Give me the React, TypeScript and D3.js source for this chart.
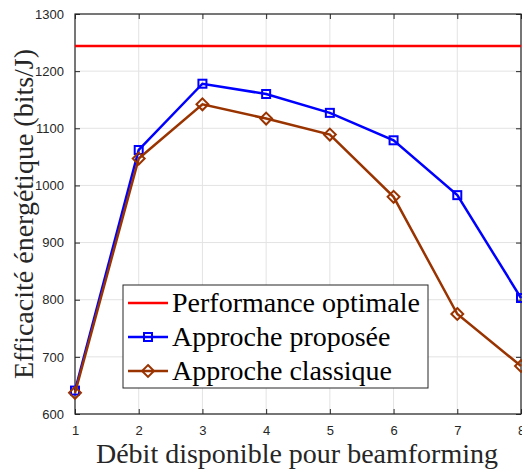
import { useEffect, useRef } from 'react';
import * as d3 from 'd3';

const debit = [1, 2, 3, 4, 5, 6, 7, 8];
const optimale = 1244;
const proposee = [641, 1062, 1178, 1160, 1127, 1079, 983, 803];
const classique = [637, 1047, 1142, 1117, 1089, 980, 775, 684];
const yTicks = [600, 700, 800, 900, 1000, 1100, 1200, 1300];

const W = 522;
const H = 471;
const MARGIN = { top: 14, right: 1, bottom: 57, left: 75 };
const AXIS = '#262626';
const GRID = '#e3e3e3';
const BLUE = '#0000ff';
const BROWN = '#993300';
const RED = '#ff0000';
const SERIF = '"Liberation Serif", "Times New Roman", serif';
const SANS = '"Liberation Sans", Arial, sans-serif';

export default function App() {
  const svgRef = useRef<SVGSVGElement>(null);

  useEffect(() => {
    const svg = svgRef.current;
    if (!svg) return;
    const root = d3.select(svg);
    root.selectAll('*').remove();

    const innerW = W - MARGIN.left - MARGIN.right;
    const innerH = H - MARGIN.top - MARGIN.bottom;
    const x = d3.scaleLinear().domain([1, 8]).range([0, innerW]);
    const y = d3.scaleLinear().domain([600, 1300]).range([innerH, 0]);

    root.append('rect').attr('width', W).attr('height', H).attr('fill', '#fff');
    const g = root.append('g').attr('transform', `translate(${MARGIN.left},${MARGIN.top})`);

    // Grid
    debit.forEach(t => {
      g.append('line').attr('x1', x(t)).attr('x2', x(t)).attr('y1', 0).attr('y2', innerH)
        .attr('stroke', GRID).attr('stroke-width', 1);
    });
    yTicks.forEach(t => {
      g.append('line').attr('x1', 0).attr('x2', innerW).attr('y1', y(t)).attr('y2', y(t))
        .attr('stroke', GRID).attr('stroke-width', 1);
    });

    // Axes (box, inward ticks)
    const styleAxis = (sel: d3.Selection<SVGGElement, unknown, null, undefined>) => {
      sel.select('.domain').remove();
      sel.selectAll('line').attr('stroke', AXIS).attr('stroke-width', 1);
      sel.selectAll('text').attr('fill', AXIS).attr('font-family', SANS).attr('font-size', '13px');
    };
    const xB = g.append('g').attr('transform', `translate(0,${innerH})`)
      .call(d3.axisBottom(x).tickValues(debit).tickFormat(d3.format('d')).tickSizeInner(-5).tickPadding(12));
    styleAxis(xB);
    const xT = g.append('g').call(d3.axisTop(x).tickValues(debit).tickSizeInner(-5).tickFormat(() => ''));
    styleAxis(xT);
    const yL = g.append('g')
      .call(d3.axisLeft(y).tickValues(yTicks).tickFormat(d3.format('d')).tickSizeInner(-5).tickPadding(11));
    styleAxis(yL);
    const yR = g.append('g').attr('transform', `translate(${innerW},0)`)
      .call(d3.axisRight(y).tickValues(yTicks).tickSizeInner(-5).tickFormat(() => ''));
    styleAxis(yR);
    g.append('rect').attr('width', innerW).attr('height', innerH)
      .attr('fill', 'none').attr('stroke', AXIS).attr('stroke-width', 1.2);

    // Series
    const line = d3.line<number>().x((_, i) => x(debit[i])).y(d => y(d));
    g.append('line').attr('x1', 0).attr('x2', innerW).attr('y1', y(optimale)).attr('y2', y(optimale))
      .attr('stroke', RED).attr('stroke-width', 2.5);

    g.append('path').datum(proposee).attr('d', line).attr('fill', 'none')
      .attr('stroke', BLUE).attr('stroke-width', 2.5);
    g.selectAll('.sq').data(proposee).join('rect')
      .attr('x', (_, i) => x(debit[i]) - 4).attr('y', d => y(d) - 4)
      .attr('width', 8).attr('height', 8)
      .attr('fill', 'none').attr('stroke', BLUE).attr('stroke-width', 2);

    g.append('path').datum(classique).attr('d', line).attr('fill', 'none')
      .attr('stroke', BROWN).attr('stroke-width', 2.5);
    const sym = d3.symbol().type(d3.symbolDiamond2).size(90);
    g.selectAll('.dm').data(classique).join('path')
      .attr('d', sym()!)
      .attr('transform', (d, i) => `translate(${x(debit[i])},${y(d)})`)
      .attr('fill', 'none').attr('stroke', BROWN).attr('stroke-width', 2);

    // Legend
    const lg = root.append('g').attr('transform', 'translate(123,285)');
    lg.append('rect').attr('width', 305).attr('height', 103)
      .attr('fill', '#fff').attr('stroke', AXIS).attr('stroke-width', 1);
    const items = [
      { label: 'Performance optimale', color: RED, marker: 'none' },
      { label: 'Approche proposée', color: BLUE, marker: 'square' },
      { label: 'Approche classique', color: BROWN, marker: 'diamond' },
    ];
    items.forEach((it, i) => {
      const cy = 18 + i * 34;
      lg.append('line').attr('x1', 5).attr('x2', 45).attr('y1', cy).attr('y2', cy)
        .attr('stroke', it.color).attr('stroke-width', 2.5);
      if (it.marker === 'square') {
        lg.append('rect').attr('x', 21).attr('y', cy - 4).attr('width', 8).attr('height', 8)
          .attr('fill', 'none').attr('stroke', it.color).attr('stroke-width', 2);
      } else if (it.marker === 'diamond') {
        lg.append('path').attr('d', sym()!).attr('transform', `translate(25,${cy})`)
          .attr('fill', 'none').attr('stroke', it.color).attr('stroke-width', 2);
      }
      lg.append('text').attr('x', 49).attr('y', cy).attr('dy', '0.33em')
        .attr('font-family', SERIF).attr('font-size', '28px').attr('fill', '#000').text(it.label);
    });

    // Axis titles
    root.append('text').attr('x', MARGIN.left + innerW / 2 - 1).attr('y', 463)
      .attr('text-anchor', 'middle').attr('font-family', SERIF).attr('font-size', '28px')
      .attr('fill', AXIS).text('Débit disponible pour beamforming');
    root.append('text').attr('transform', `translate(33,${MARGIN.top + innerH / 2}) rotate(-90)`)
      .attr('text-anchor', 'middle').attr('font-family', SERIF).attr('font-size', '28px')
      .attr('fill', AXIS).text('Efficacité énergétique (bits/J)');
  }, []);

  return (
    <svg ref={svgRef} width={W} height={H}
      style={{ position: 'absolute', top: 0, left: 0, display: 'block' }} />
  );
}
